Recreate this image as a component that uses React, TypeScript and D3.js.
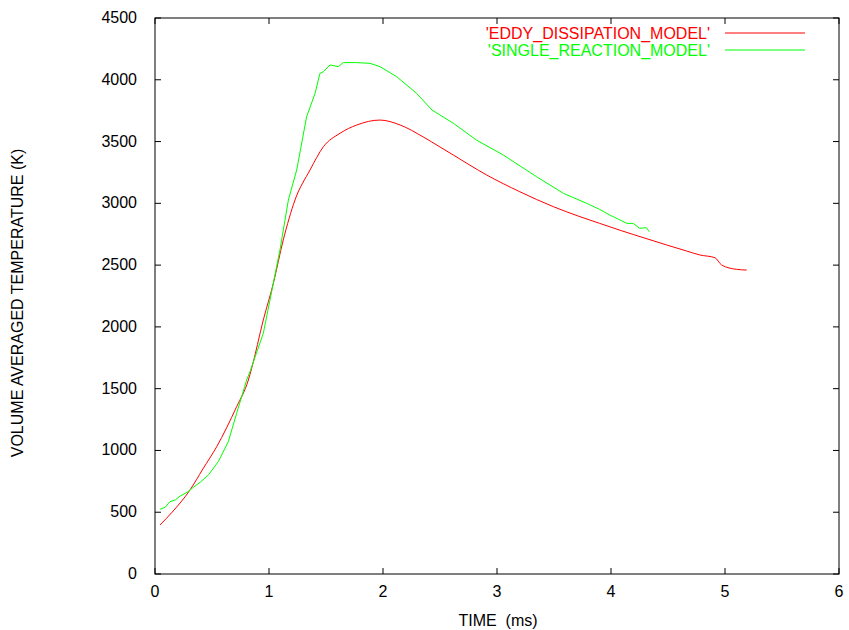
import React from "react";
import * as d3 from "d3";

const redT = [0.044, 0.15, 0.307, 0.42, 0.541, 0.716, 0.819, 0.848, 0.95, 1.038, 1.125, 1.228, 1.36, 1.477, 1.623, 1.77, 1.974, 2.15, 2.35, 2.5, 2.617, 2.91, 3.2, 3.494, 3.728, 3.9, 4.08, 4.195, 4.488, 4.664, 4.78, 4.912, 4.97, 5.1, 5.19];
const redV = [397, 500, 680, 850, 1030, 1354, 1570, 1665, 2056, 2352, 2703, 3027, 3270, 3458, 3567, 3634, 3674, 3634, 3539, 3456, 3391, 3229, 3094, 2973, 2892, 2838, 2782, 2748, 2663, 2614, 2582, 2560, 2501, 2466, 2460];

const greenT = [0.044, 0.09, 0.13, 0.18, 0.22, 0.28, 0.336, 0.4, 0.468, 0.555, 0.643, 0.716, 0.804, 0.833, 0.95, 1.096, 1.17, 1.243, 1.33, 1.404, 1.447, 1.477, 1.535, 1.608, 1.652, 1.77, 1.886, 1.974, 2.12, 2.295, 2.43, 2.617, 2.82, 3.055, 3.348, 3.582, 3.787, 3.9, 3.99, 4.14, 4.195, 4.25, 4.31, 4.336];
const greenV = [524, 540, 585, 600, 631, 660, 701, 745, 801, 909, 1071, 1300, 1570, 1637, 1948, 2622, 3027, 3270, 3701, 3890, 4052, 4065, 4120, 4106, 4139, 4139, 4133, 4106, 4025, 3890, 3755, 3648, 3512, 3391, 3215, 3081, 3000, 2951, 2905, 2838, 2838, 2798, 2803, 2770];

const xTicks = [0, 1, 2, 3, 4, 5, 6];
const yTicks = [0, 500, 1000, 1500, 2000, 2500, 3000, 3500, 4000, 4500];

const seriesNames = ["'EDDY_DISSIPATION_MODEL'", "'SINGLE_REACTION_MODEL'"];
const seriesColors = ["#ff0000", "#00ff00"];

export default function App() {
  const W = 849, H = 630;
  const left = 155, right = 839, top = 18, bottom = 574;
  const x = d3.scaleLinear().domain([0, 6]).range([left, right]);
  const y = d3.scaleLinear().domain([0, 4500]).range([bottom, top]);
  const smooth = d3.line<[number, number]>().x(d => x(d[0])).y(d => y(d[1])).curve(d3.curveMonotoneX);
  const line = d3.line<[number, number]>().x(d => x(d[0])).y(d => y(d[1]));
  const red = redT.map((t, i) => [t, redV[i]] as [number, number]);
  const green = greenT.map((t, i) => [t, greenV[i]] as [number, number]);
  const font = "'Liberation Sans', Arial, Helvetica, sans-serif";
  const fs = 16;
  const tl = 6;
  return (
    <svg width={W} height={H} style={{ position: "absolute", left: 0, top: 0, background: "#fff" }} fontFamily={font} fontSize={fs}>
      <rect x={0} y={0} width={W} height={H} fill="#fff" />
      <rect x={left} y={top} width={right - left} height={bottom - top} fill="none" stroke="#000" strokeWidth={1} />
      {xTicks.map(t => (
        <g key={"x" + t}>
          <line x1={x(t)} x2={x(t)} y1={bottom} y2={bottom - tl} stroke="#000" />
          <line x1={x(t)} x2={x(t)} y1={top} y2={top + tl} stroke="#000" />
          <text x={x(t)} y={bottom + 23} textAnchor="middle">{t}</text>
        </g>
      ))}
      {yTicks.map(v => (
        <g key={"y" + v}>
          <line x1={left} x2={left + tl} y1={y(v)} y2={y(v)} stroke="#000" />
          <line x1={right} x2={right - tl} y1={y(v)} y2={y(v)} stroke="#000" />
          <text x={left - 18} y={y(v) + 5} textAnchor="end">{v}</text>
        </g>
      ))}
      <text x={498} y={626} textAnchor="middle" style={{ whiteSpace: "pre" }}>TIME  (ms)</text>
      <text transform={`translate(23, 303) rotate(-90)`} textAnchor="middle">VOLUME AVERAGED TEMPERATURE (K)</text>
      <path d={smooth(red) || ""} fill="none" stroke={seriesColors[0]} strokeWidth={1} />
      <path d={line(green) || ""} fill="none" stroke={seriesColors[1]} strokeWidth={1} />
      {seriesNames.map((n, i) => (
        <g key={n}>
          <text x={710} y={39 + i * 17} textAnchor="end" fill={seriesColors[i]} style={{ whiteSpace: "pre" }}>{n}</text>
          <line x1={725} x2={805} y1={33 + i * 17} y2={33 + i * 17} stroke={seriesColors[i]} />
        </g>
      ))}
    </svg>
  );
}
